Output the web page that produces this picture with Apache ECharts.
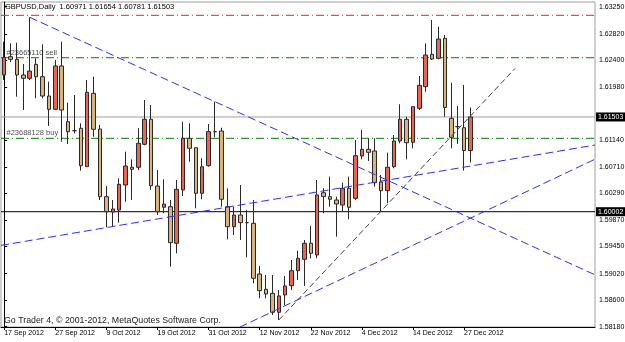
<!DOCTYPE html>
<html>
<head>
<meta charset="utf-8">
<script src="https://cdn.jsdelivr.net/npm/echarts@6/dist/echarts.min.js"></script>
<style>
  html, body { margin: 0; padding: 0; background: #fff; }
  #chart { width: 625px; height: 342px; }
</style>
</head>
<body>
<div id="chart"></div>
<script>
// trading days (one daily bar each)
const dates = [
  '17 Sep 2012', '18 Sep 2012', '19 Sep 2012', '20 Sep 2012', '21 Sep 2012', '24 Sep 2012', '25 Sep 2012', '26 Sep 2012', '27 Sep 2012', '28 Sep 2012',
  '1 Oct 2012', '2 Oct 2012', '3 Oct 2012', '4 Oct 2012', '5 Oct 2012', '8 Oct 2012', '9 Oct 2012', '10 Oct 2012', '11 Oct 2012', '12 Oct 2012',
  '15 Oct 2012', '16 Oct 2012', '17 Oct 2012', '18 Oct 2012', '19 Oct 2012', '22 Oct 2012', '23 Oct 2012', '24 Oct 2012', '25 Oct 2012', '26 Oct 2012',
  '29 Oct 2012', '30 Oct 2012', '31 Oct 2012',
  '1 Nov 2012', '2 Nov 2012', '5 Nov 2012', '6 Nov 2012', '7 Nov 2012', '8 Nov 2012', '9 Nov 2012', '12 Nov 2012', '13 Nov 2012', '14 Nov 2012',
  '15 Nov 2012', '16 Nov 2012', '19 Nov 2012', '20 Nov 2012', '21 Nov 2012', '22 Nov 2012', '23 Nov 2012', '26 Nov 2012', '27 Nov 2012', '28 Nov 2012',
  '29 Nov 2012', '30 Nov 2012',
  '3 Dec 2012', '4 Dec 2012', '5 Dec 2012', '6 Dec 2012', '7 Dec 2012', '10 Dec 2012', '11 Dec 2012', '12 Dec 2012', '13 Dec 2012', '14 Dec 2012',
  '17 Dec 2012', '18 Dec 2012', '19 Dec 2012', '20 Dec 2012', '21 Dec 2012', '24 Dec 2012', '26 Dec 2012', '27 Dec 2012', '28 Dec 2012'
];

const opens = [
  1.62168, 1.62458, 1.62417, 1.62168, 1.62116, 1.62337, 1.62141, 1.61835, 1.61625, 1.62311,
  1.61428, 1.61286, 1.61324, 1.60715, 1.61878, 1.61312, 1.60240, 1.59997, 1.60029, 1.60425,
  1.60706, 1.60706, 1.61070, 1.61466, 1.60409, 1.60072, 1.60081, 1.59502, 1.60346, 1.61165,
  1.61016, 1.60294, 1.60731, 1.61270, 1.61281, 1.60081, 1.59765, 1.59950, 1.59828, 1.59818,
  1.59015, 1.58773, 1.58709, 1.58408, 1.58683, 1.58830, 1.59067, 1.59248, 1.59502, 1.59316,
  1.60303, 1.60240, 1.60188, 1.60108, 1.60373, 1.60214, 1.60885, 1.60991, 1.60964, 1.60473,
  1.60335, 1.60715, 1.61122, 1.61466, 1.61102, 1.61640, 1.61983, 1.62496, 1.62433, 1.62749,
  1.61482, 1.61349, 1.61333, 1.60971
];
const closes = [
  1.62448, 1.62417, 1.62168, 1.62116, 1.62231, 1.62141, 1.61835, 1.61625, 1.62311, 1.61613,
  1.61270, 1.61286, 1.60731, 1.61894, 1.61308, 1.60240, 1.60002, 1.60045, 1.60436, 1.60726,
  1.60674, 1.61086, 1.61466, 1.60414, 1.60002, 1.60124, 1.59511, 1.60357, 1.61165, 1.61007,
  1.60294, 1.60715, 1.61270, 1.61270, 1.60199, 1.59765, 1.59950, 1.59828, 1.59828, 1.58947,
  1.58751, 1.58698, 1.58408, 1.58667, 1.58825, 1.59067, 1.59264, 1.59502, 1.59343, 1.60267,
  1.60240, 1.60199, 1.60124, 1.60373, 1.60072, 1.60889, 1.60991, 1.60943, 1.60462, 1.60335,
  1.60706, 1.61122, 1.61466, 1.61095, 1.61666, 1.62005, 1.62485, 1.62421, 1.62738, 1.61654,
  1.61181, 1.61349, 1.60971, 1.61503
];
const lows = [
  1.62089, 1.62374, 1.61824, 1.61613, 1.62089, 1.61799, 1.61799, 1.61360, 1.61613, 1.61111,
  1.61075, 1.61244, 1.60652, 1.60715, 1.61190, 1.60188, 1.59755, 1.59765, 1.59828, 1.60161,
  1.60188, 1.60663, 1.61054, 1.60346, 1.59950, 1.59977, 1.59131, 1.59343, 1.60251, 1.60794,
  1.60056, 1.60199, 1.60715, 1.61181, 1.60081, 1.59565, 1.59633, 1.59554, 1.59280, 1.58868,
  1.58630, 1.58630, 1.58366, 1.58286, 1.58524, 1.58762, 1.58920, 1.58825, 1.59264, 1.59264,
  1.59977, 1.60081, 1.59606, 1.60002, 1.59882, 1.60188, 1.60832, 1.60805, 1.60398, 1.59997,
  1.60135, 1.60690, 1.61086, 1.60832, 1.61007, 1.61613, 1.61903, 1.62406, 1.62417, 1.61507,
  1.61007, 1.61075, 1.60652, 1.60781
];
const highs = [
  1.62696, 1.62670, 1.62680, 1.62342, 1.63082, 1.62433, 1.62654, 1.62062, 1.62406, 1.62696,
  1.61729, 1.61851, 1.61403, 1.62089, 1.62141, 1.61376, 1.60409, 1.60188, 1.60531, 1.60953,
  1.60832, 1.61324, 1.61772, 1.61693, 1.60663, 1.60516, 1.60188, 1.60504, 1.61428, 1.61403,
  1.61016, 1.60848, 1.61392, 1.61745, 1.61333, 1.60373, 1.60081, 1.60425, 1.60029, 1.60188,
  1.59142, 1.58999, 1.58999, 1.58762, 1.58984, 1.59237, 1.59384, 1.59554, 1.59776, 1.60504,
  1.60373, 1.60557, 1.60240, 1.60462, 1.60557, 1.61138, 1.61297, 1.61165, 1.61165, 1.60584,
  1.60937, 1.61217, 1.61704, 1.61507, 1.61666, 1.62152, 1.62670, 1.63039, 1.62933, 1.62802,
  1.62046, 1.61677, 1.62010, 1.61654
];

// right price scale labels
const priceTicks = [1.5818, 1.586, 1.5902, 1.5945, 1.5987, 1.6029, 1.6071, 1.6114, 1.6198, 1.624, 1.6282, 1.6325];

// horizontal levels
const stopLevel = 1.63114;
const sellLevel = 1.62442;
const buyLevel = 1.61165;
const roundLevel = 1.60002;
const orderLabels = ['#23665110 sell', '#23688128 buy'];

// trend lines: two anchor points [bar, price]
const trendA = [[4, 1.63082], [33, 1.61745]];   // ray to the right
const trendB = [[0, 1.59477], [92, 1.61050]];   // full line
const trendC = [[40, 1.58322], [90, 1.60714]];  // full line
const trendD = [[43, 1.58286], [80, 1.62274]];  // segment

const FONT = 'Liberation Sans';
const emptySlots = 19;
const categories = dates.concat(new Array(emptySlots).fill(''));
const xMin = -0.5;
const xMax = categories.length - 0.5;

const candles = dates.map((d, i) => [opens[i], closes[i], lows[i], highs[i]]);
const last = dates.length - 1;

// stretch a two point line to the chart edges
function extend(pts, left, right) {
  const [p0, p1] = pts;
  const k = (p1[1] - p0[1]) / (p1[0] - p0[0]);
  const a = left ? [xMin, p0[1] + (xMin - p0[0]) * k] : p0;
  const b = right ? [xMax, p0[1] + (xMax - p0[0]) * k] : p1;
  return [a, b];
}

function trendSeries(data, color, dash) {
  return {
    type: 'line', xAxisIndex: 1, yAxisIndex: 0,
    data: data, symbol: 'none', silent: true, clip: true,
    lineStyle: {color: color, width: 1, type: dash},
    z: 3
  };
}

// horizontal level across the whole chart, optional price box on the right scale
function levelSeries(price, color, dash, boxed) {
  const s = trendSeries([[xMin, price], [xMax, price]], color, dash);
  s.z = 1;
  if (boxed) {
    s.endLabel = {
      show: true, formatter: () => price.toFixed(5), distance: 1,
      backgroundColor: '#000', color: '#fff', padding: [1, 2], fontSize: 7, fontFamily: FONT
    };
  }
  return s;
}

const showLabel = (i) => i % 8 === 0 && i < dates.length;

const chart = echarts.init(document.getElementById('chart'));

const option = {
  animation: false,
  backgroundColor: '#fff',
  title: [
    {
      text: 'GBPUSD,Daily  ' + [opens[last], highs[last], lows[last], closes[last]].map(v => v.toFixed(5)).join(' '),
      left: 5, top: 3, padding: 0,
      textStyle: {fontSize: 7.5, fontWeight: 'normal', color: '#000', fontFamily: FONT}
    },
    {
      text: 'Go Trader 4, \u00a9 2001-2012, MetaQuotes Software Corp.',
      left: 4, top: 316, padding: 0,
      textStyle: {fontSize: 8.8, fontWeight: 'normal', color: '#222', fontFamily: FONT}
    }
  ],
  grid: {
    left: 1, right: 30, top: 2, bottom: 15,
    show: true, borderColor: '#a0a0a0', borderWidth: 1,
    containLabel: false, outerBoundsMode: 'none'
  },
  xAxis: [
    {
      type: 'category', data: categories, boundaryGap: true,
      axisLine: {show: true, lineStyle: {color: '#000', width: 1}},
      axisTick: {show: true, alignWithLabel: true, interval: showLabel, length: 3, lineStyle: {color: '#000'}},
      axisLabel: {interval: showLabel, align: 'left', margin: 3, fontSize: 7, color: '#000', fontFamily: FONT},
      splitLine: {show: false}
    },
    {type: 'value', min: xMin, max: xMax, show: false}
  ],
  yAxis: {
    type: 'value', position: 'right', min: 1.58175, max: 1.63325, scale: true,
    axisLine: {show: true, lineStyle: {color: '#000', width: 1}},
    axisTick: {show: true, length: 3, customValues: priceTicks, lineStyle: {color: '#000'}},
    axisLabel: {
      customValues: priceTicks, margin: 4, fontSize: 7, color: '#000', fontFamily: FONT,
      formatter: v => v.toFixed(5)
    },
    splitLine: {show: false}
  },
  series: [
    {
      type: 'candlestick', data: candles, barWidth: 4,
      itemStyle: {
        color: '#f2604f', color0: '#dcb27c',
        borderColor: '#2a2a2a', borderColor0: '#2a2a2a', borderColorDoji: '#2a2a2a', borderWidth: 1
      },
      z: 2
    },
    levelSeries(stopLevel, '#ff1a1a', [8, 3, 1, 3], false),
    levelSeries(sellLevel, '#008000', [8, 3, 1, 3], false),
    levelSeries(buyLevel, '#008000', [8, 3, 1, 3], false),
    levelSeries(closes[last], '#a0a0a0', 'solid', true),
    levelSeries(roundLevel, '#000000', 'solid', true),
    // order tickets written just above their lines
    {
      type: 'scatter', xAxisIndex: 1, yAxisIndex: 0, silent: true, z: 4,
      data: [[xMin, sellLevel], [xMin, buyLevel]],
      symbolSize: 1, itemStyle: {color: 'rgba(0,0,0,0)'},
      label: {
        show: true, position: 'right', distance: 5, offset: [0, -5],
        formatter: p => orderLabels[p.dataIndex],
        fontSize: 7.5, color: '#1a1a1a', fontFamily: FONT
      }
    },
    trendSeries(extend(trendA, false, true), '#3030f0', [8, 4]),
    trendSeries(extend(trendB, true, true), '#3030f0', [8, 4]),
    trendSeries(extend(trendC, true, true), '#3030f0', [8, 4]),
    trendSeries(extend(trendD, false, false), '#404040', [6, 3])
  ]
};

chart.setOption(option);
</script>
</body>
</html>
